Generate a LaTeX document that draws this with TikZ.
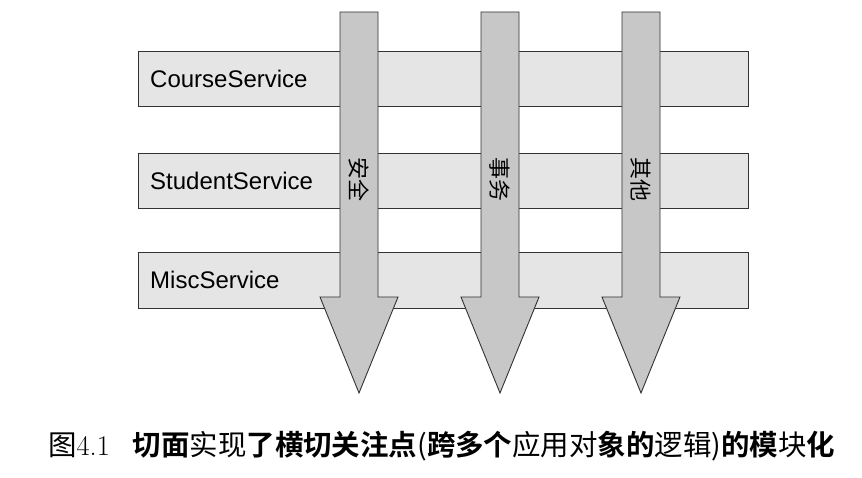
\documentclass[tikz,border=0pt]{standalone}
\usepackage{fontspec}
\setsansfont{Liberation Sans}
\newfontfamily\cjk{Noto Sans CJK SC}
\newfontfamily\cjkb{Noto Sans CJK SC Bold}
\begin{document}
\begin{tikzpicture}[x=1pt,y=-1pt,
  bar/.style={draw=black!80,fill=black!10,line width=0.8pt},
  arr/.style={draw=black!80,fill=black!22,line width=0.9pt},
  lbl/.style={font=\sffamily\fontsize{24}{26}\selectfont,anchor=west,inner sep=0},
  alb/.style={font=\cjk\fontsize{22}{24}\selectfont,rotate=-90,inner sep=0}]
\useasboundingbox (0,0) rectangle (862,478);
\fill[white] (0,0) rectangle (862,478);
\draw[bar] (138,51) rectangle (748,106);
\draw[bar] (138,153) rectangle (748,208);
\draw[bar] (138,252) rectangle (748,308);
\node[lbl] (c) at (150,79) {CourseService};
\node[lbl] (s) at (150,181) {StudentService};
\node[lbl] (m) at (150,280) {MiscService};
\foreach \cx/\t/\n in {359/安全/a1,500/事务/a2,641/其他/a3}{
  \draw[arr] (\cx-19,12) -- (\cx+19,12) -- (\cx+19,297) -- (\cx+39,297) -- (\cx,393)
    -- (\cx-39,297) -- (\cx-19,297) -- cycle;
  \node[alb] (\n) at (\cx,180) {\t};
}
\node[anchor=west,inner sep=0] (cap) at (48,446) {\resizebox{787pt}{!}{\fontsize{22}{24}\selectfont
{\cjk 图}{\rmfamily 4.1}\hspace{0.8em}{\cjkb 切面}{\cjk 实现}{\cjkb 了横切关注点}{\cjk (}{\cjkb 跨多个}{\cjk 应用对}{\cjkb 象的}{\cjk 逻辑)}{\cjkb 的模}{\cjk 块}{\cjkb 化}}};
\end{tikzpicture}
\end{document}
